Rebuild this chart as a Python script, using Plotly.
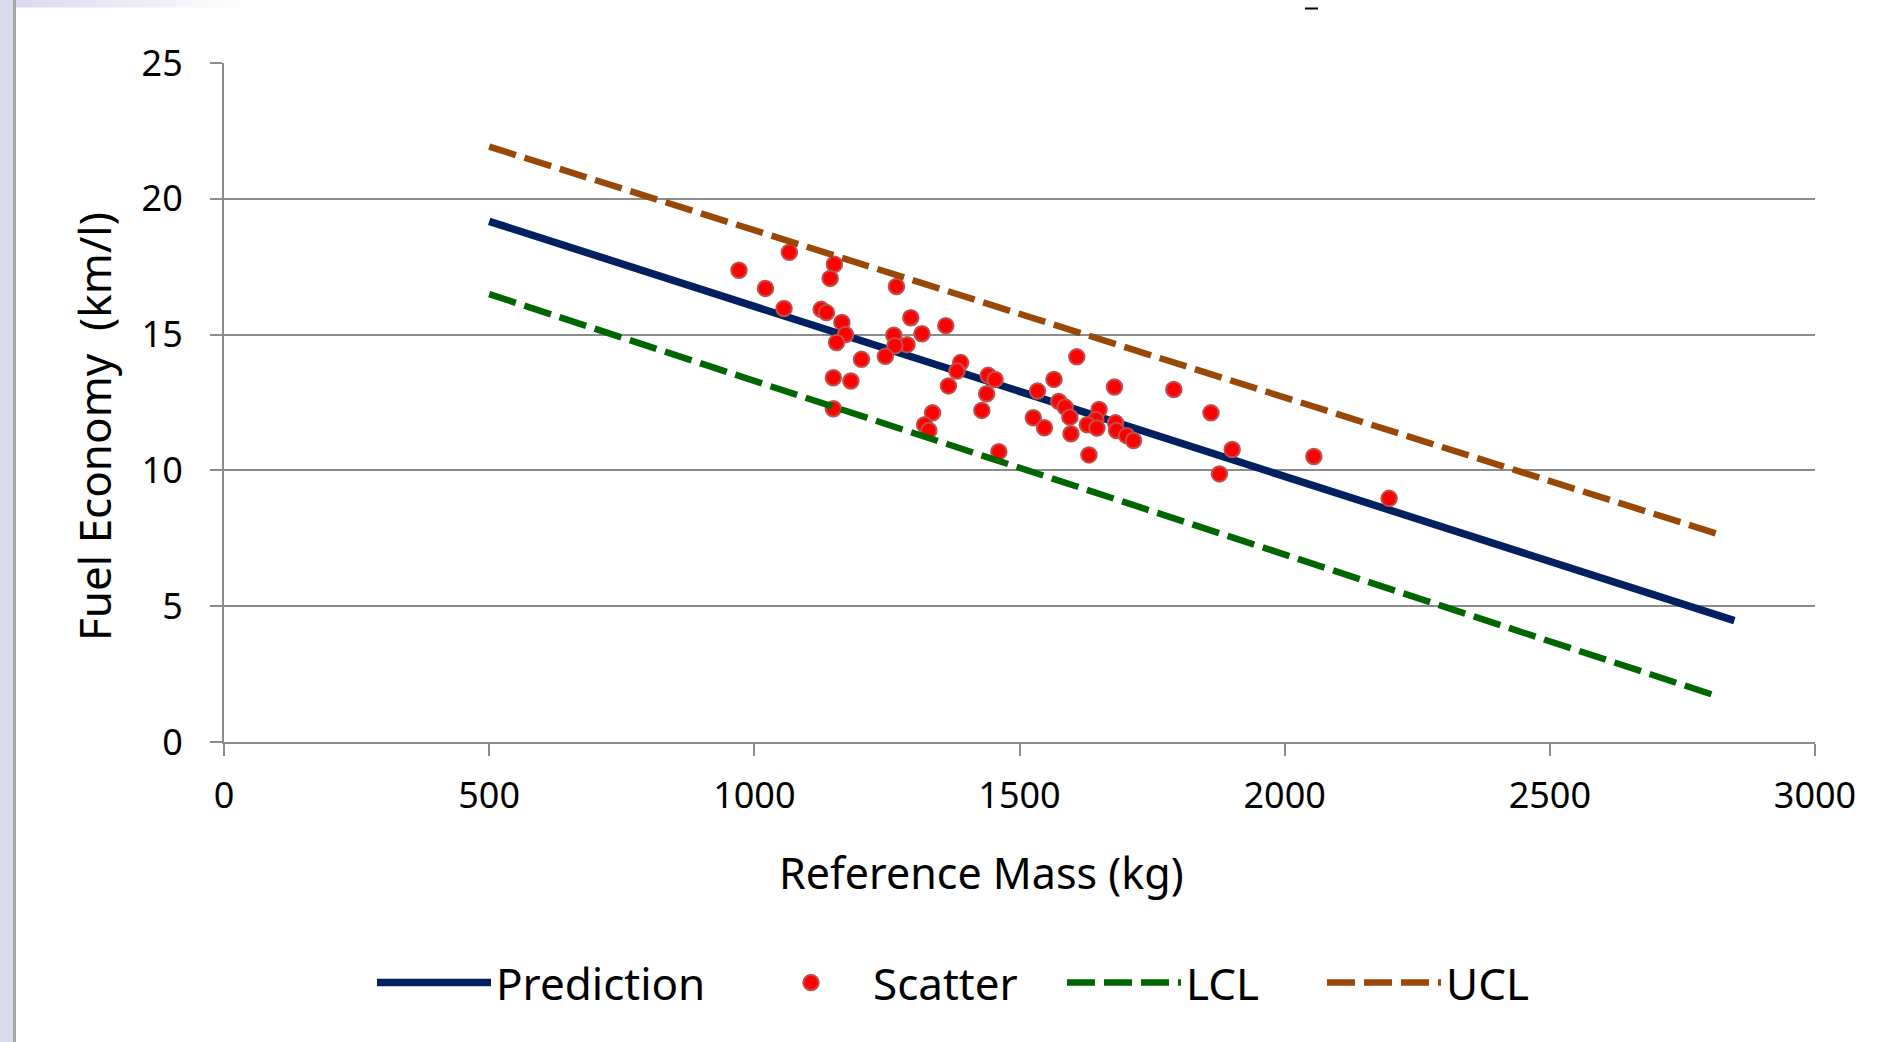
import plotly.graph_objects as go

# ---------------- data ----------------
mass = [1066, 971, 1151, 1143, 1021, 1268, 1056, 1126, 1136, 1165, 1172, 1155,
        1295, 1361, 1263, 1316, 1288, 1265, 1247, 1202, 1389, 1382, 1149, 1182,
        1366, 1441, 1454, 1438, 1429, 1149, 1336, 1321, 1329, 1461, 1608, 1565,
        1534, 1574, 1586, 1595, 1597, 1526, 1547, 1631, 1650, 1644, 1628, 1646,
        1679, 1681, 1683, 1702, 1715, 1791, 1861, 1901, 1877, 2055, 2197]
economy = [18.03, 17.37, 17.59, 17.07, 16.70, 16.77, 15.96, 15.93, 15.81, 15.45, 15.00, 14.71,
           15.62, 15.33, 14.98, 15.03, 14.63, 14.59, 14.20, 14.09, 13.97, 13.66, 13.41, 13.29,
           13.11, 13.50, 13.35, 12.82, 12.21, 12.27, 12.12, 11.68, 11.47, 10.69, 14.18, 13.35,
           12.92, 12.54, 12.33, 11.96, 11.35, 11.94, 11.57, 10.57, 12.24, 11.87, 11.68, 11.56,
           13.07, 11.75, 11.47, 11.28, 11.10, 12.98, 12.12, 10.77, 9.87, 10.51, 8.97]

pred_x = [500, 2848]
pred_y = [19.17, 4.47]
lcl_x = [500, 2820]
lcl_y = [16.49, 1.66]
ucl_x = [500, 2820]
ucl_y = [21.92, 7.64]

x_ticks = [0, 500, 1000, 1500, 2000, 2500, 3000]
y_ticks = [0, 5, 10, 15, 20, 25]

x_title = "Reference Mass (kg)"
y_title = "Fuel Economy\u00a0 (km/l)"

FONT = "Noto Sans"
W, H = 1899, 1042
L, R, T, B = 224, 1815, 63, 742  # plot area in px

def px_x(p):
    return (p - L) / (R - L)

def px_y(p):
    return (B - p) / (B - T)

fig = go.Figure()
fig.add_trace(go.Scatter(x=pred_x, y=pred_y, mode="lines", name="Prediction",
                         legendwidth=248,
                         line=dict(color="#002060", width=7.5)))
fig.add_trace(go.Scatter(x=mass, y=economy, mode="markers", name="Scatter",
                         legendwidth=184,
                         marker=dict(color="#FF0000", size=15.5,
                                     line=dict(color="#C0504D", width=2))))
fig.add_trace(go.Scatter(x=lcl_x, y=lcl_y, mode="lines", name="LCL",
                         legendwidth=131,
                         line=dict(color="#006600", width=6.5, dash="28px,9px")))
fig.add_trace(go.Scatter(x=ucl_x, y=ucl_y, mode="lines", name="UCL",
                         legendwidth=90,
                         line=dict(color="#984807", width=6.5, dash="28px,9px")))

shapes = []
# slide decoration: left lavender strip and border
shapes.append(dict(type="rect", xref="paper", yref="paper",
                   x0=px_x(0), x1=px_x(13), y0=px_y(W), y1=px_y(0),
                   fillcolor="#D9DAEF", line=dict(width=0), layer="below"))
shapes.append(dict(type="line", xref="paper", yref="paper",
                   x0=px_x(14.5), x1=px_x(14.5), y0=px_y(W), y1=px_y(0),
                   line=dict(color="#A6A6A6", width=3)))
# top fading strip
n = 14
for i in range(n):
    a = 1 - i / n
    shapes.append(dict(type="rect", xref="paper", yref="paper",
                       x0=px_x(16 + i * 16), x1=px_x(16 + (i + 1) * 16),
                       y0=px_y(7.5), y1=px_y(0),
                       fillcolor="#D9DAEF", opacity=a, line=dict(width=0)))
shapes.append(dict(type="line", xref="paper", yref="paper",
                   x0=px_x(1305), x1=px_x(1318), y0=px_y(8.5), y1=px_y(8.5),
                   line=dict(color="#000000", width=2)))

annotations = [
    dict(text=x_title, xref="paper", yref="paper", x=px_x(981), y=px_y(872),
         xanchor="center", yanchor="middle", showarrow=False,
         font=dict(family=FONT, size=43, color="black")),
    dict(text=y_title, xref="paper", yref="paper", x=px_x(94), y=px_y(427),
         xanchor="center", yanchor="middle", showarrow=False, textangle=-90,
         font=dict(family=FONT, size=44, color="black")),
]

fig.update_layout(
    width=W, height=H,
    margin=dict(l=L, r=W - R, t=T, b=H - B, autoexpand=False),
    paper_bgcolor="white", plot_bgcolor="white",
    font=dict(family=FONT, size=36, color="black"),
    shapes=shapes,
    annotations=annotations,
    showlegend=True,
    legend=dict(orientation="h", x=px_x(372), xanchor="left",
                y=px_y(983), yanchor="middle",
                font=dict(family=FONT, size=44, color="black"),
                itemwidth=114, bgcolor="rgba(0,0,0,0)"),
    xaxis=dict(range=[0, 3000], tickvals=x_ticks, showgrid=False, zeroline=False,
               showline=True, linecolor="#8C8C8C", linewidth=2,
               ticks="outside", ticklen=12, tickwidth=2, tickcolor="#8C8C8C",
               tickfont=dict(family=FONT, size=36, color="black"),
               ticklabelstandoff=9),
    yaxis=dict(range=[0, 25], tickvals=y_ticks, showgrid=True, gridcolor="#8C8C8C",
               gridwidth=2, zeroline=False,
               showline=True, linecolor="#8C8C8C", linewidth=2,
               ticks="outside", ticklen=12, tickwidth=2, tickcolor="#8C8C8C",
               tickfont=dict(family=FONT, size=36, color="black"),
               ticklabelstandoff=20),
)

fig.write_html("out.html", config={"displayModeBar": False},
               post_script="document.body.style.margin='0';")
